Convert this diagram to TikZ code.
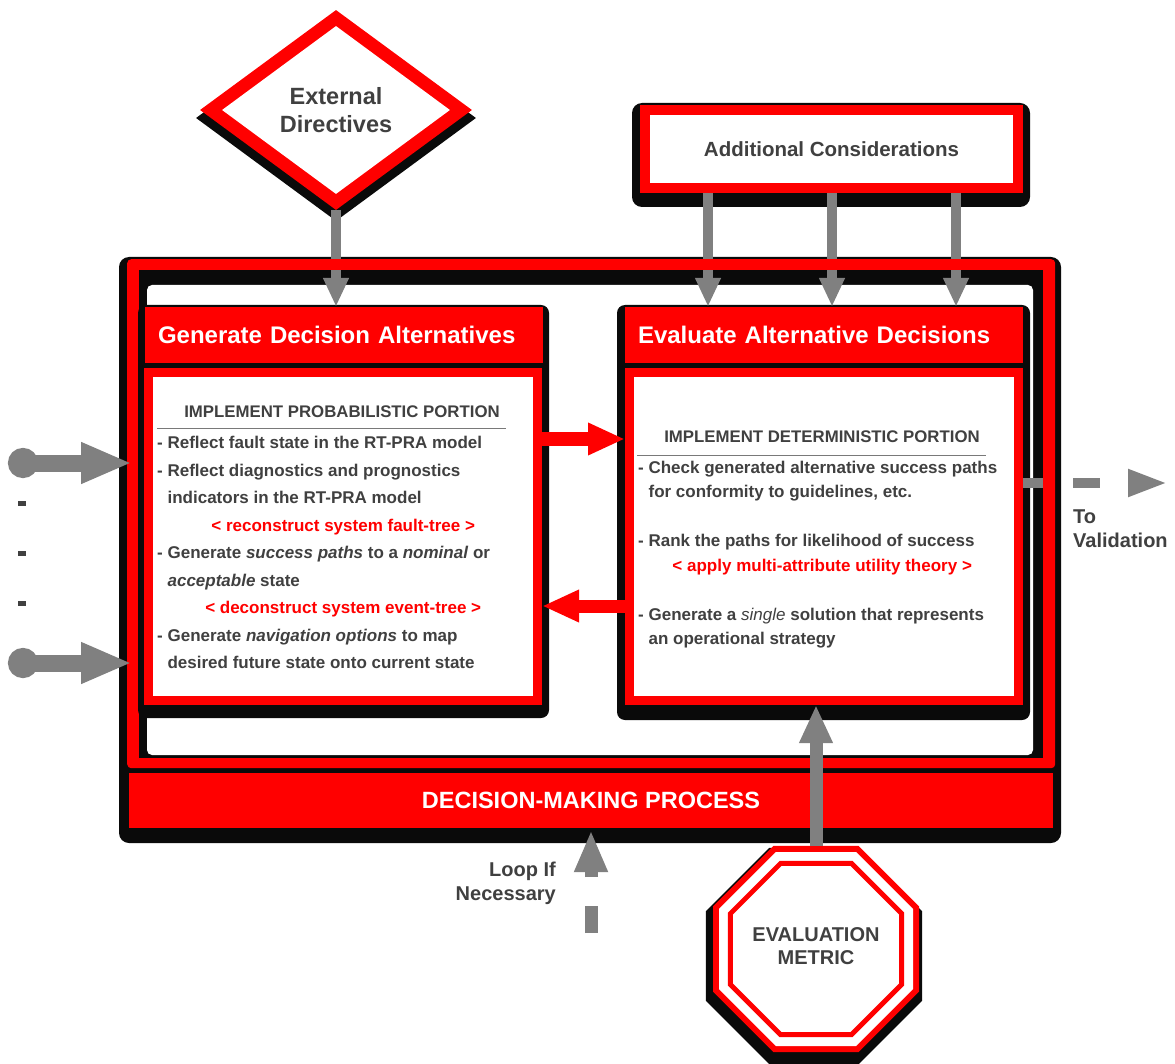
\documentclass[tikz,border=0pt]{standalone}
\usepackage{fontspec}
\setmainfont{Liberation Sans}
\usetikzlibrary{arrows.meta,shapes.geometric,calc}
\definecolor{alarmred}{HTML}{FF0000}
\definecolor{dropblack}{HTML}{0A0A0A}
\definecolor{pipegray}{HTML}{808080}
\definecolor{ink}{HTML}{404040}
\newcommand{\octagonpath}[2]{% centre, circumradius
  ($#1+(22.5:#2)$) -- ($#1+(67.5:#2)$) -- ($#1+(112.5:#2)$) -- ($#1+(157.5:#2)$) --
  ($#1+(202.5:#2)$) -- ($#1+(247.5:#2)$) -- ($#1+(292.5:#2)$) -- ($#1+(337.5:#2)$) -- cycle}
\begin{document}
\begin{tikzpicture}[x=1pt,y=-1pt,
  headbar/.style={fill=alarmred, minimum height=56pt, text width=372pt, inner xsep=13pt, inner ysep=0pt,
    align=left, text=white, font=\bfseries\fontsize{24}{28}\selectfont},
  panel/.style={draw=alarmred, line width=9pt, fill=white, minimum width=389pt, minimum height=328pt, inner sep=0pt},
  paneltitle/.style={text=ink, font=\bfseries\fontsize{16.8}{20}\selectfont, inner sep=0pt},
  paneltext/.style={text=ink, font=\bfseries\fontsize{17}{27.5}\selectfont, align=left, anchor=north west, inner sep=0pt},
  sidenote/.style={text=ink, font=\bfseries\fontsize{20}{24}\selectfont, inner sep=0pt},
  feed/.style={draw=pipegray, line width=10pt, -{Triangle[length=29pt,width=24pt]}},
  bigfeed/.style={draw=pipegray, line width=13pt, -{Triangle[length=38pt,width=31pt]}},
  handoff/.style={draw=alarmred, line width=14pt, -{Triangle[length=37pt,width=30pt]}},
  intake/.style={draw=pipegray, line width=17pt, {Circle[length=30pt]}-{Triangle[length=51pt,width=38pt]}},
]
\useasboundingbox (0,0) rectangle (1175,1064);
\fill[white] (0,0) rectangle (1175,1064);

% ---------- External directives (diamond) ----------
\node[diamond, fill=dropblack, minimum width=280pt, minimum height=206pt, inner sep=0pt] at (336,118) {};
\node[diamond, fill=alarmred, minimum width=272pt, minimum height=200pt, inner sep=0pt] (ext) at (336,110) {};
\node[diamond, fill=white, minimum width=228pt, minimum height=168pt, inner sep=0pt, text=ink, align=center,
  font=\bfseries\fontsize{23.5}{28.5}\selectfont] (extin) at (336,110) {External\\Directives};

% ---------- Additional considerations ----------
\fill[dropblack, rounded corners=10pt] (632,103) rectangle (1030,207);
\node[draw=alarmred, line width=10pt, fill=white, minimum width=373pt, minimum height=78pt, inner sep=0pt,
  text=ink, font=\bfseries\fontsize{20.5}{24}\selectfont] (addc) at (831.5,149) {Additional Considerations};

% ---------- Decision-making process frame ----------
\fill[dropblack, rounded corners=10pt] (119,257) rectangle (1061,843);
\node[fill=alarmred, rounded corners=4pt, minimum width=928pt, minimum height=509pt, inner sep=0pt,
  anchor=north west] (frame) at (127,259) {};
\fill[dropblack] (139,270) rectangle (1043,758);
\fill[white, rounded corners=5pt] (147,285) rectangle (1033,755);
\node[fill=alarmred, minimum width=924pt, minimum height=55pt, inner sep=0pt, text=white,
  font=\bfseries\fontsize{23.5}{28}\selectfont] (dmp) at (591,800.5) {DECISION-MAKING PROCESS};

% ---------- Generate decision alternatives ----------
\fill[dropblack, rounded corners=8pt] (138,305) rectangle (549,718);
\node[headbar] (ghead) at (344,335) {Generate Decision Alternatives};
\node[panel] (gbody) at (343,536.5) {};

% ---------- Evaluate alternative decisions ----------
\fill[dropblack, rounded corners=8pt] (617,305) rectangle (1030,720);
\node[headbar] (ehead) at (824,335) {Evaluate Alternative Decisions};
\node[panel] (ebody) at (824,536.5) {};

% ---------- inputs from above ----------
\coordinate (k1) at (708,0);
\coordinate (k2) at (832,0);
\coordinate (k3) at (956,0);
\draw[feed] (ext.south) -- (ext.south |- ghead.north);
\draw[feed] (addc.south -| k1) -- (ehead.north -| k1);
\draw[feed] (addc.south -| k2) -- (ehead.north -| k2);
\draw[feed] (addc.south -| k3) -- (ehead.north -| k3);
% top band of the frame passes over the shafts
\fill[alarmred] (140,259) rectangle (1042,270);

% ---------- exchange between the two panels ----------
\coordinate (fwd) at (0,439);
\coordinate (back) at (0,606);
\draw[handoff] (gbody.east |- fwd) -- (ebody.west |- fwd);
\draw[handoff, line width=13pt] (ebody.west |- back) -- (gbody.east |- back);

% ---------- external inputs on the left ----------
\coordinate (in1) at (8,463);
\coordinate (in2) at (8,663);
\draw[intake, shorten >=-5pt] (in1) -- (in1 -| frame.west);
\draw[intake, shorten >=-5pt] (in2) -- (in2 -| frame.west);
\fill[ink] (18,501) rectangle (26,506);
\fill[ink] (18,551) rectangle (26,556);
\fill[ink] (18,601) rectangle (26,606);

% ---------- output to validation ----------
\coordinate (valid) at (1168,483);
\draw[feed, dash pattern=on 20pt off 30pt on 27pt off 28pt, -{Triangle[length=40pt,width=25pt]}]
  (ebody.east |- valid) -- (valid);
\node[sidenote, anchor=west, align=left] (validnote) at (1073,529) {To\\Validation};

% ---------- panel contents ----------
\node[paneltitle] (gtitle) at (342,412) {IMPLEMENT PROBABILISTIC PORTION};
\draw[ink!70, line width=1pt] (157,428) -- (506,428);
\node[paneltext] (glist) at (157,436) {%
- Reflect fault state in the RT-PRA model\\
- Reflect diagnostics and prognostics\\
\hspace*{10.4pt}indicators in the RT-PRA model\\
\makebox[372pt][c]{\textcolor{alarmred}{< reconstruct system fault-tree >}}\\
- Generate \textit{success paths} to a \textit{nominal} or\\
\hspace*{10.4pt}\textit{acceptable} state\\
\makebox[372pt][c]{\textcolor{alarmred}{< deconstruct system event-tree >}}\\
- Generate \textit{navigation options} to map\\
\hspace*{10.4pt}desired future state onto current state};

\node[paneltitle] (etitle) at (822,437) {IMPLEMENT DETERMINISTIC PORTION};
\draw[ink!70, line width=1pt] (637,455) -- (986,455);
\node[paneltext, font=\bfseries\fontsize{17}{24.5}\selectfont] (elist) at (638,460.5) {%
- Check generated alternative success paths\\
\hspace*{10.4pt}for conformity to guidelines, etc.\\[24.5pt]
- Rank the paths for likelihood of success\\
\makebox[368pt][c]{\textcolor{alarmred}{< apply multi-attribute utility theory >}}\\[24.5pt]
- Generate a {\mdseries\itshape single} solution that represents\\
\hspace*{10.4pt}an operational strategy};

% ---------- evaluation metric (octagon, double red border) ----------
\coordinate (mc) at (816,949);
\coordinate (mshadow) at (814,956);
\fill[dropblack] \octagonpath{(mshadow)}{117};
\fill[alarmred] \octagonpath{(mc)}{111.5};
\fill[white] \octagonpath{(mc)}{105};
\fill[alarmred] \octagonpath{(mc)}{95.3};
\fill[white] \octagonpath{(mc)}{89.8};
\node[text=ink, align=center, inner sep=0pt, font=\bfseries\fontsize{20}{23}\selectfont]
  (metric) at (816,946) {EVALUATION\\METRIC};
\coordinate (metrictop) at (816,846);
\draw[bigfeed] (metrictop) -- (metrictop |- ebody.south);

% ---------- loop back ----------
\coordinate (loopfoot) at (591,933);
\draw[bigfeed, -{Triangle[length=42pt,width=31pt]}, dash pattern=on 27pt off 29pt on 10pt, shorten >=2pt]
  (loopfoot) -- (loopfoot |- dmp.south);
\node[sidenote, anchor=east, align=right] (loopnote) at (556,883) {Loop If\\Necessary};
\end{tikzpicture}
\end{document}
